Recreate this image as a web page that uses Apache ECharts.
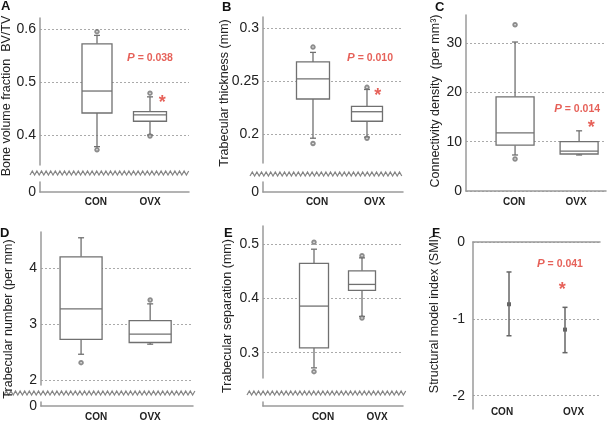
<!DOCTYPE html>
<html><head><meta charset="utf-8">
<script src="https://cdn.jsdelivr.net/npm/echarts@6/dist/echarts.min.js"></script>
<style>html,body{margin:0;padding:0;background:#fff}#c{width:613px;height:422px}</style>
</head><body><div id="c"></div>
<script>
// ---------------- DATA ----------------
const groups = ['CON', 'OVX'];
// box rows: [groupPosition, lowWhisker, Q1, median, Q3, highWhisker]
const boxA = [[1, 0.378, 0.4415, 0.483, 0.572, 0.588], [2, 0.400, 0.426, 0.438, 0.444, 0.472]];
const outA = [[1, 0.595], [1, 0.372], [2, 0.479], [2, 0.398]];
const boxB = [[1, 0.196, 0.233, 0.252, 0.268, 0.277], [2, 0.197, 0.212, 0.221, 0.226, 0.242]];
const outB = [[1, 0.282], [1, 0.191], [2, 0.244], [2, 0.196]];
const boxC = [[1, 7.3, 9.3, 11.8, 19.1, 30.2], [2, 7.3, 7.5, 8.1, 10.0, 12.2]];
const outC = [[1, 33.7], [1, 6.5]];
const boxD = [[1, 2.46, 2.727, 3.27, 4.20, 4.54], [2, 2.64, 2.67, 2.82, 3.06, 3.36]];
const outD = [[1, 4.71], [1, 2.31], [2, 3.43]];
const boxE = [[1, 0.272, 0.309, 0.386, 0.465, 0.491], [2, 0.367, 0.415, 0.426, 0.451, 0.475]];
const outE = [[1, 0.504], [1, 0.265], [2, 0.479], [2, 0.364]];
// error bars: [groupPosition, mean, low, high]
const errF = [[1, -0.81, -1.22, -0.39], [2, -1.14, -1.44, -0.85]];
// tick labels
const ticksA = [0.4, 0.5, 0.6];
const ticksB = [0.2, 0.25, 0.3];
const ticksC = [0, 10, 20, 30];
const ticksD = [2, 3, 4];
const ticksE = [0.3, 0.4, 0.5];
const ticksF = [-2, -1, 0];
const pValues = { A: '0.038', B: '0.010', C: '0.014', F: '0.041' };
const yNames = {
  A: 'Bone volume fraction  BV/TV', B: 'Trabecular thickness (mm)', C: 'Connectivity density  (per mm\u00B3)',
  D: 'Trabecular number (per mm)', E: 'Trabecular separation (mm)', F: 'Structural model index (SMI)'
};

// ---------------- STYLE / LAYOUT ----------------
const FONT = '"Liberation Sans", Arial, sans-serif';
const AX = '#9a9a9a';
const BOXC = '#707070';
const RED = '#e0392f';
const TXT = '#222';

const panels = [
  { id: 'A', up: { left: 40, top: 18, width: 149, height: 147 }, low: { left: 40, top: 182, width: 149, height: 10 },
    xr: [-0.0755, 2.736], yr: [0.3434, 0.6208], ticks: ticksA, zero: true, boxes: boxA, outs: outA, boxW: [30, 33],
    labelPos: [0.98, 2.0], labelMargin: 5, pPos: [2.0, 0.545], starPos: [2.23, 0.461],
    zig: { x0: 30, x1: 189, y: 173 }, name: [7, 96], letter: [1, 6] },
  { id: 'B', up: { left: 263, top: 17, width: 140, height: 146 }, low: { left: 263, top: 182, width: 140, height: 10 },
    xr: [0.074, 2.667], yr: [0.1726, 0.3104], ticks: ticksB, zero: true, boxes: boxB, outs: outB, boxW: [33, 31],
    labelPos: [1.074, 2.139], labelMargin: 5, pPos: [2.056, 0.2717], starPos: [2.2, 0.2362],
    zig: { x0: 250, x1: 404, y: 174 }, name: [225, 93], letter: [222, 7] },
  { id: 'C', up: { left: 466, top: 15, width: 140, height: 176 }, low: null,
    xr: [0.234, 2.42], yr: [0, 35.68], ticks: ticksC, zero: false, boxes: boxC, outs: outC, boxW: [38, 38],
    labelPos: [0.984, 1.953], labelMargin: 6, pPos: [1.97, 16.6], starPos: [2.19, 12.7],
    zig: null, name: [436, 101], letter: [435, 7] },
  { id: 'D', up: { left: 41, top: 232, width: 152, height: 153 }, low: { left: 41, top: 402, width: 152, height: 7 },
    xr: [0.42, 2.62], yr: [1.911, 4.643], ticks: ticksD, zero: true, boxes: boxD, outs: outD, boxW: [42, 42],
    labelPos: [1.217, 2.0], labelMargin: 6, pPos: null, starPos: null,
    zig: { x0: 4, x1: 195, y: 393 }, name: [9, 319], letter: [0, 233] },
  { id: 'E', up: { left: 263, top: 226, width: 140, height: 152 }, low: { left: 263, top: 402, width: 140, height: 7 },
    xr: [-0.0625, 2.854], yr: [0.2533, 0.5338], ticks: ticksE, zero: false, boxes: boxE, outs: outE, boxW: [29, 27],
    labelPos: [1.1875, 2.3125], labelMargin: 6, pPos: null, starPos: null,
    zig: { x0: 247, x1: 407, y: 393 }, name: [228, 316], letter: [224, 233] },
  { id: 'F', up: { left: 473, top: 242, width: 127, height: 167 }, low: null,
    xr: [0.357, 2.625], yr: [-2.173, 0], ticks: ticksF, zero: false, err: errF,
    labelPos: [0.875, 2.152], labelMargin: -2, pPos: [1.91, -0.29], starPos: [1.95, -0.62],
    zig: null, name: [435, 314], letter: [432, 233] }
];

// ---------------- BUILD ----------------
const grids = [], xAxes = [], yAxes = [], series = [], graphics = [];

function nearestIdx(arr, v) {
  let b = 0; for (let i = 1; i < arr.length; i++) if (Math.abs(arr[i] - v) < Math.abs(arr[b] - v)) b = i; return b;
}
function xLabelAxis(gi, p, lineShow) {
  return {
    type: 'value', gridIndex: gi, min: p.xr[0], max: p.xr[1], position: 'bottom',
    axisLine: { show: lineShow, onZero: false, lineStyle: { color: AX, width: 1.5 } },
    axisTick: { show: false, customValues: p.labelPos }, splitLine: { show: false },
    axisLabel: {
      customValues: p.labelPos, margin: p.labelMargin, color: TXT, fontSize: 10, fontWeight: 'bold', fontFamily: FONT,
      formatter: v => groups[nearestIdx(p.labelPos, v)]
    }
  };
}
function yTickAxis(gi, p, ticks, range, grid) {
  return {
    type: 'value', gridIndex: gi, min: range[0], max: range[1],
    axisLine: { show: true, onZero: false, lineStyle: { color: AX, width: 1.5 } },
    axisTick: { show: false, customValues: ticks },
    axisLabel: { show: ticks.length > 0, customValues: ticks.length ? ticks : undefined, color: TXT, fontSize: 14, fontFamily: FONT, margin: p.id === 'F' ? 8 : 4 },
    splitLine: { show: grid, lineStyle: { color: '#aaaaaa', type: [2, 2], width: 1 } }
  };
}
function makeBox(widths) {
  return function (params, api) {
    const x = api.value(0);
    const lo = api.coord([x, api.value(1)]), q1 = api.coord([x, api.value(2)]), md = api.coord([x, api.value(3)]),
      q3 = api.coord([x, api.value(4)]), hi = api.coord([x, api.value(5)]);
    const w = widths[params.dataIndex], h = w / 2, cx = md[0], cap = 3;
    const st = { stroke: BOXC, lineWidth: 1.3, fill: null };
    return {
      type: 'group', children: [
        { type: 'line', shape: { x1: cx, y1: q3[1], x2: cx, y2: hi[1] }, style: st },
        { type: 'line', shape: { x1: cx, y1: q1[1], x2: cx, y2: lo[1] }, style: st },
        { type: 'line', shape: { x1: cx - cap, y1: hi[1], x2: cx + cap, y2: hi[1] }, style: st },
        { type: 'line', shape: { x1: cx - cap, y1: lo[1], x2: cx + cap, y2: lo[1] }, style: st },
        { type: 'rect', shape: { x: cx - h, y: q3[1], width: w, height: q1[1] - q3[1] }, style: { stroke: BOXC, lineWidth: 1.3, fill: '#fff' } },
        { type: 'line', shape: { x1: cx - h, y1: md[1], x2: cx + h, y2: md[1] }, style: st }
      ]
    };
  };
}
function errRender(params, api) {
  const x = api.value(0);
  const m = api.coord([x, api.value(1)]), lo = api.coord([x, api.value(2)]), hi = api.coord([x, api.value(3)]);
  const st = { stroke: '#666', lineWidth: 1.5 };
  return {
    type: 'group', children: [
      { type: 'line', shape: { x1: m[0], y1: hi[1], x2: m[0], y2: lo[1] }, style: st },
      { type: 'line', shape: { x1: m[0] - 2.5, y1: hi[1], x2: m[0] + 2.5, y2: hi[1] }, style: st },
      { type: 'line', shape: { x1: m[0] - 2.5, y1: lo[1], x2: m[0] + 2.5, y2: lo[1] }, style: st },
      { type: 'rect', shape: { x: m[0] - 2, y: m[1] - 2, width: 4, height: 4 }, style: { fill: '#666' } }
    ]
  };
}
function zigzag(z) {
  const pts = []; const per = 4.6, amp = 2;
  let i = 0;
  for (let x = z.x0; x <= z.x1; x += per / 2, i++) pts.push([x, z.y + (i % 2 ? -amp : amp)]);
  return { type: 'polyline', shape: { points: pts }, style: { stroke: '#858585', lineWidth: 1.2, fill: null }, silent: true };
}
function txt(x, y, text, font, rot, color) {
  return { type: 'text', x: x, y: y, rotation: rot || 0, silent: true,
    style: { text: text, font: font, fill: color || TXT, align: 'center', verticalAlign: 'middle', textAlign: 'center', textVerticalAlign: 'middle' } };
}

let topAxisQueue = [];
panels.forEach(p => {
  const gi = grids.length;
  grids.push(Object.assign({}, p.up));
  const hasLow = !!p.low;
  if (hasLow) {
    xAxes.push({ type: 'value', gridIndex: gi, min: p.xr[0], max: p.xr[1], show: false, axisLine: { onZero: false } });
  } else {
    xAxes.push(xLabelAxis(gi, p, p.id !== 'F'));
  }
  yAxes.push(yTickAxis(gi, p, p.ticks, p.yr, true));
  let gl = null;
  if (hasLow) {
    gl = grids.length;
    grids.push(Object.assign({}, p.low));
    xAxes.push(xLabelAxis(gl, p, true));
    yAxes.push(yTickAxis(gl, p, p.zero ? [0] : [], [0, 1], false));
  }
  if (p.boxes) {
    series.push({ type: 'custom', xAxisIndex: gi, yAxisIndex: gi, data: p.boxes, encode: { x: 0, y: [1, 2, 3, 4, 5] },
      renderItem: makeBox(p.boxW), clip: false, silent: true, z: 3 });
    series.push({ type: 'scatter', xAxisIndex: gi, yAxisIndex: gi, data: p.outs, symbol: 'emptyCircle', symbolSize: 3.5,
      itemStyle: { color: BOXC, borderColor: BOXC, borderWidth: 1 }, silent: true, z: 4 });
  }
  if (p.err) {
    series.push({ type: 'custom', xAxisIndex: gi, yAxisIndex: gi, data: p.err, encode: { x: 0, y: [1, 2, 3] },
      renderItem: errRender, clip: false, silent: true, z: 3 });
    topAxisQueue.push({ gi: gi, p: p });
  }
  if (p.pPos) {
    series.push({ type: 'scatter', xAxisIndex: gi, yAxisIndex: gi, data: [p.pPos], symbolSize: 1,
      itemStyle: { color: 'rgba(0,0,0,0)' }, silent: true, z: 5,
      label: { show: true, position: 'inside', formatter: '{i|P} = ' + pValues[p.id], color: RED, fontWeight: 'bold', fontSize: 10.5, fontFamily: FONT,
        rich: { i: { fontStyle: 'italic', fontWeight: 'bold', color: RED, fontSize: 11.5, fontFamily: FONT } } } });
    series.push({ type: 'scatter', xAxisIndex: gi, yAxisIndex: gi, data: [p.starPos], symbolSize: 1,
      itemStyle: { color: 'rgba(0,0,0,0)' }, silent: true, z: 5,
      label: { show: true, position: 'inside', formatter: '*', color: RED, fontWeight: 'bold', fontSize: 18, fontFamily: FONT } });
  }
  if (p.zig) graphics.push(zigzag(p.zig));
  graphics.push(txt(p.name[0], p.name[1], yNames[p.id], '12.5px ' + FONT, Math.PI / 2));
  graphics.push({ type: 'text', x: p.letter[0], y: p.letter[1], silent: true,
    style: { text: p.id, font: 'bold 13px ' + FONT, fill: '#111', align: 'left', verticalAlign: 'middle', textAlign: 'left', textVerticalAlign: 'middle' } });
});
topAxisQueue.forEach(t => {
  xAxes.push({ type: 'value', gridIndex: t.gi, min: t.p.xr[0], max: t.p.xr[1], position: 'top',
    axisLine: { show: true, onZero: false, lineStyle: { color: AX, width: 1.5 } }, axisTick: { show: false },
    axisLabel: { show: false }, splitLine: { show: false } });
});

const chart = echarts.init(document.getElementById('c'), null, { renderer: 'canvas' });
chart.setOption({
  animation: false,
  backgroundColor: '#ffffff',
  grid: grids, xAxis: xAxes, yAxis: yAxes, series: series, graphic: graphics
});
</script></body></html>
